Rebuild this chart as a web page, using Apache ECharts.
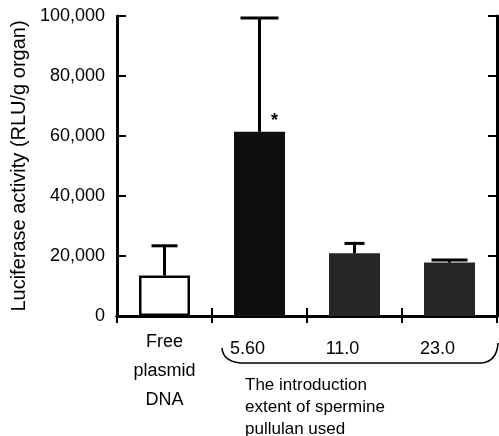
<!DOCTYPE html>
<html>
<head>
<meta charset="utf-8">
<script src="https://cdn.jsdelivr.net/npm/echarts@6/dist/echarts.min.js"></script>
<style>
html,body{margin:0;padding:0;background:#fff;}
#chart{width:499px;height:436px;}
</style>
</head>
<body>
<div id="chart"></div>
<script>
// ---- data ----
var categories = ['Free\nplasmid\nDNA', '5.60', '11.0', '23.0'];
var means = [13500, 61400, 20900, 17800];
var errorTops = [23400, 99300, 24200, 18700];
var significance = ['', '*', '', ''];
var yTicks = [0, 20000, 40000, 60000, 80000, 100000];
var yTitle = 'Luciferase activity (RLU/g organ)';
var groupTitle = 'The introduction\nextent of spermine\npullulan used';

// ---- styles ----
var barColors = ['#ffffff', '#0e0e0e', '#262626', '#262626'];
var capHalf = [13, 19, 10, 18];
var FONT = '"Liberation Sans", Arial, Helvetica, sans-serif';

var chart = echarts.init(document.getElementById('chart'), null, {renderer: 'canvas'});

var option = {
  animation: false,
  backgroundColor: '#fff',
  textStyle: {fontFamily: FONT, color: '#000'},
  grid: {left: 117, right: 2, top: 16, bottom: 120, containLabel: false},
  xAxis: [{
    type: 'category',
    data: categories,
    position: 'bottom',
    boundaryGap: true,
    axisLine: {show: true, lineStyle: {color: '#000', width: 3}},
    axisTick: {show: true, inside: true, length: 8, lineStyle: {color: '#000', width: 2}},
    axisLabel: {
      margin: 12,
      interval: 0,
      color: '#000',
      fontFamily: FONT,
      fontSize: 18,
      formatter: function (v, i) {
        if (i === 0) {
          return v.split('\n').map(function (s) { return '{a|' + s + '}'; }).join('\n');
        }
        return '{b|' + v + '}';
      },
      rich: {
        a: {fontSize: 18, lineHeight: 29, fontFamily: FONT, color: '#000'},
        b: {fontSize: 18, lineHeight: 29, fontFamily: FONT, color: '#000', padding: [14, 24, 0, 0]}
      }
    },
    splitLine: {show: false}
  }, {
    type: 'category',
    data: categories,
    position: 'top',
    boundaryGap: true,
    axisLine: {show: true, lineStyle: {color: '#000', width: 3}},
    axisTick: {show: true, inside: true, length: 7, lineStyle: {color: '#000', width: 2}},
    axisLabel: {show: false},
    splitLine: {show: false}
  }],
  yAxis: [{
    type: 'value',
    position: 'left',
    min: yTicks[0],
    max: yTicks[yTicks.length - 1],
    interval: yTicks[1] - yTicks[0],
    name: yTitle,
    nameLocation: 'middle',
    nameRotate: 90,
    nameGap: 82,
    nameTextStyle: {fontSize: 20, fontFamily: FONT, color: '#000'},
    axisLine: {show: true, lineStyle: {color: '#000', width: 3}},
    axisTick: {show: true, inside: true, length: 9, lineStyle: {color: '#000', width: 2}},
    axisLabel: {
      margin: 12, fontSize: 18, color: '#000', fontFamily: FONT,
      formatter: function (v) { return v.toLocaleString('en-US'); }
    },
    splitLine: {show: false}
  }, {
    type: 'value',
    position: 'right',
    min: yTicks[0],
    max: yTicks[yTicks.length - 1],
    interval: yTicks[1] - yTicks[0],
    axisLine: {show: true, lineStyle: {color: '#000', width: 3}},
    axisTick: {show: true, inside: true, length: 9, lineStyle: {color: '#000', width: 2}},
    axisLabel: {show: false},
    splitLine: {show: false}
  }],
  series: [{
    type: 'bar',
    xAxisIndex: 0,
    yAxisIndex: 0,
    barWidth: 51,
    data: means.map(function (m, i) {
      return {
        value: m,
        itemStyle: {
          color: barColors[i],
          borderColor: '#000',
          borderWidth: i === 0 ? 2.5 : 0
        }
      };
    }),
    z: 2
  }, {
    type: 'custom',
    xAxisIndex: 0,
    yAxisIndex: 0,
    data: means.map(function (m, i) { return [i, m, errorTops[i]]; }),
    renderItem: function (params, api) {
      var i = api.value(0);
      var base = api.coord([i, api.value(1)]);
      var top = api.coord([i, api.value(2)]);
      var h = capHalf[i];
      var children = [{
        type: 'line',
        shape: {x1: base[0], y1: base[1], x2: top[0], y2: top[1]},
        style: {stroke: '#000', lineWidth: 3}
      }, {
        type: 'line',
        shape: {x1: top[0] - h, y1: top[1], x2: top[0] + h, y2: top[1]},
        style: {stroke: '#000', lineWidth: 3}
      }];
      if (significance[i]) {
        children.push({
          type: 'text',
          style: {
            x: base[0] + 15, y: base[1] - 2,
            text: significance[i],
            fontSize: 18, fontWeight: 'bold', fontFamily: FONT, fill: '#000',
            align: 'center', verticalAlign: 'bottom'
          }
        });
      }
      return {type: 'group', children: children};
    },
    z: 3
  }]
};

chart.setOption(option);

// Decorations placed relative to the axes
var p1 = chart.convertToPixel({xAxisIndex: 0}, 1);
var p0 = chart.convertToPixel({xAxisIndex: 0}, 0);
var band = p1 - p0;
var y0 = chart.convertToPixel({yAxisIndex: 0}, 0);
var xL = p0 + band / 2 + 10;
var xR = p0 + band * 3.5 + 1;
var yB = y0 + 47;
var braceStyle = {fill: null, stroke: '#000', lineWidth: 1.6};

chart.setOption({
  graphic: [{
    type: 'bezierCurve',
    shape: {x1: xL, y1: yB - 15, cpx1: xL + 1, cpy1: yB - 2, x2: xL + 18, y2: yB},
    style: braceStyle
  }, {
    type: 'line',
    shape: {x1: xL + 18, y1: yB, x2: xR - 16, y2: yB},
    style: braceStyle
  }, {
    type: 'bezierCurve',
    shape: {x1: xR - 16, y1: yB, cpx1: xR - 1, cpy1: yB - 2, x2: xR, y2: yB - 20},
    style: braceStyle
  }, {
    type: 'text',
    x: xL + 23,
    y: yB + 11,
    style: {
      text: groupTitle,
      fontSize: 17,
      lineHeight: 22,
      fontFamily: FONT,
      fill: '#000'
    }
  }]
});
</script>
</body>
</html>
